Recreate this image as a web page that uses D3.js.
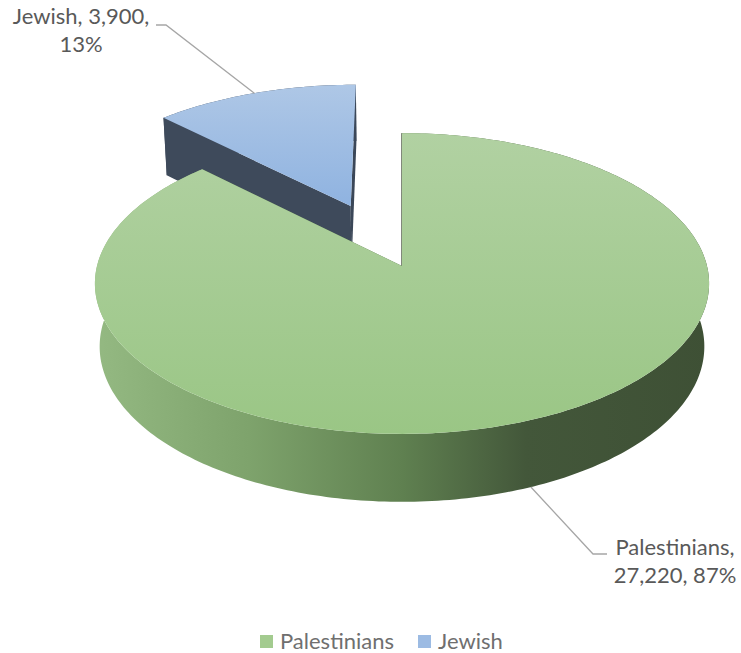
<!DOCTYPE html>
<html>
<head>
<meta charset="utf-8">
<script src="https://cdn.jsdelivr.net/npm/d3@7"></script>
<style>
  body { margin: 0; background: #fff; }
  svg text { font-family: Lato, "Open Sans", sans-serif; }
</style>
</head>
<body>
<div id="chart"></div>
<script>
// data
var categories = ["Palestinians", "Jewish"];
var values = [27220, 3900];
var explode = [0, 0.46];          // how far each slice is pulled out (fraction of radius)
var labelBreak = [1, 2];          // how many label parts go on the first line

var width = 741, height = 653;

// 3d view settings
var cx = 402, cy = 266,
    D = 7.5,                       // camera distance (in radii)
    tilt = 29.1 * Math.PI / 180,
    f = 305 * D,
    thick = 0.239;
var sn = Math.sin(tilt), cs = Math.cos(tilt);

function proj(x, Y, z) {
  var d = D - Y * sn - z * cs;
  return [cx + f * x / d, cy + f * (z * sn - Y * cs) / d];
}
function rim(a, Y, off) {
  return proj(off[0] + Math.sin(a), Y, off[1] - Math.cos(a));
}

var svg = d3.select("#chart").append("svg")
    .attr("width", width)
    .attr("height", height);

var defs = svg.append("defs");

function linGrad(id, x1, y1, x2, y2, stops) {
  var g = defs.append("linearGradient")
      .attr("id", id)
      .attr("gradientUnits", "userSpaceOnUse")
      .attr("x1", x1).attr("y1", y1).attr("x2", x2).attr("y2", y2);
  stops.forEach(function(s) {
    g.append("stop").attr("offset", s[0]).attr("stop-color", s[1]);
  });
}
linGrad("gWall", 95, 0, 711, 0, [[0, "#94b982"], [0.25, "#7ea36c"], [0.5, "#5f8050"], [0.7, "#43573a"], [1, "#3e5035"]]);
linGrad("gTop", 0, 133, 0, 434, [[0, "#b1d1a2"], [1, "#9ac685"]]);
linGrad("jTop", 0, 86, 0, 210, [[0, "#aec7e6"], [1, "#8eb2e0"]]);

var styles = [
  { wall: "url(#gWall)", face0: "#4f6a43", face1: "#4f6a43", top: "url(#gTop)" },
  { wall: "#3f4b5c", face0: "#3e4a5b", face1: "#3b4758", top: "url(#jTop)" }
];

var pie = d3.pie().sort(null).value(function(d) { return d; });
var arcs = pie(values);
arcs.forEach(function(a, i) {
  var mid = (a.startAngle + a.endAngle) / 2;
  a.off = [Math.sin(mid) * explode[i], -Math.cos(mid) * explode[i]];
  a.mid = mid;
});

var line = d3.line();

// draw back slice first
var order = [1, 0];
order.forEach(function(i) {
  var a = arcs[i], st = styles[i];
  var n = Math.max(8, Math.round((a.endAngle - a.startAngle) / (Math.PI / 180)));
  var angs = d3.range(n + 1).map(function(k) {
    return a.startAngle + (a.endAngle - a.startAngle) * k / n;
  });
  var topArc = angs.map(function(t) { return rim(t, 0, a.off); });
  var botArc = angs.map(function(t) { return rim(t, -thick, a.off); });
  var vTop = proj(a.off[0], 0, a.off[1]);
  var vBot = proj(a.off[0], -thick, a.off[1]);

  var g = svg.append("g").attr("class", "slice");

  g.append("path")
      .attr("d", line(topArc.concat(botArc.slice().reverse())) + "Z")
      .attr("fill", st.wall);

  g.append("path")
      .attr("d", line([vTop, topArc[0], botArc[0], vBot]) + "Z")
      .attr("fill", st.face0)
      .attr("stroke", i == 0 ? "#56604f" : "none")
      .attr("stroke-width", 1);

  g.append("path")
      .attr("d", line([vTop, topArc[n], botArc[n], vBot]) + "Z")
      .attr("fill", st.face1);

  g.append("path")
      .attr("d", line([vTop].concat(topArc)) + "Z")
      .attr("fill", st.top);
});

// data labels
var total = d3.sum(values);
var fmtNum = d3.format(","), fmtPct = d3.format(".0%");

var labelPos = [
  { x: 675, y: 555, lineEnd: [607, 554], elbow: [593, 554], Y: -thick },
  { x: 81, y: 24, lineEnd: [156, 25], elbow: [166, 25], Y: 0 }
];

arcs.forEach(function(a, i) {
  var lp = labelPos[i];
  var anchor = rim(a.mid, lp.Y, a.off);
  svg.append("path")
      .attr("d", line([anchor, lp.elbow, lp.lineEnd]))
      .attr("fill", "none")
      .attr("stroke", "#a6a6a6")
      .attr("stroke-width", 1.3);

  var parts = [categories[i], fmtNum(values[i]), fmtPct(values[i] / total)];
  var lines = [parts.slice(0, labelBreak[i]).join(", ") + ",",
               parts.slice(labelBreak[i]).join(", ")];
  var t = svg.append("text")
      .attr("x", lp.x)
      .attr("y", lp.y)
      .attr("text-anchor", "middle")
      .style("font-size", "22px")
      .style("fill", "#595959");
  lines.forEach(function(l, k) {
    t.append("tspan").attr("x", lp.x).attr("dy", k == 0 ? 0 : 28).text(l);
  });
});

// legend
var legendX = [260, 418];
var legendFill = ["#a3cb8f", "#9cbbe3"];
var leg = svg.append("g").selectAll("g")
    .data(categories)
  .enter().append("g")
    .attr("transform", function(d, i) { return "translate(" + legendX[i] + ",635)"; });
leg.append("rect")
    .attr("width", 13).attr("height", 13)
    .attr("fill", function(d, i) { return legendFill[i]; });
leg.append("text")
    .attr("x", 20).attr("y", 14)
    .style("font-size", "22px")
    .style("fill", "#6f6f6f")
    .text(function(d) { return d; });
</script>
</body>
</html>
